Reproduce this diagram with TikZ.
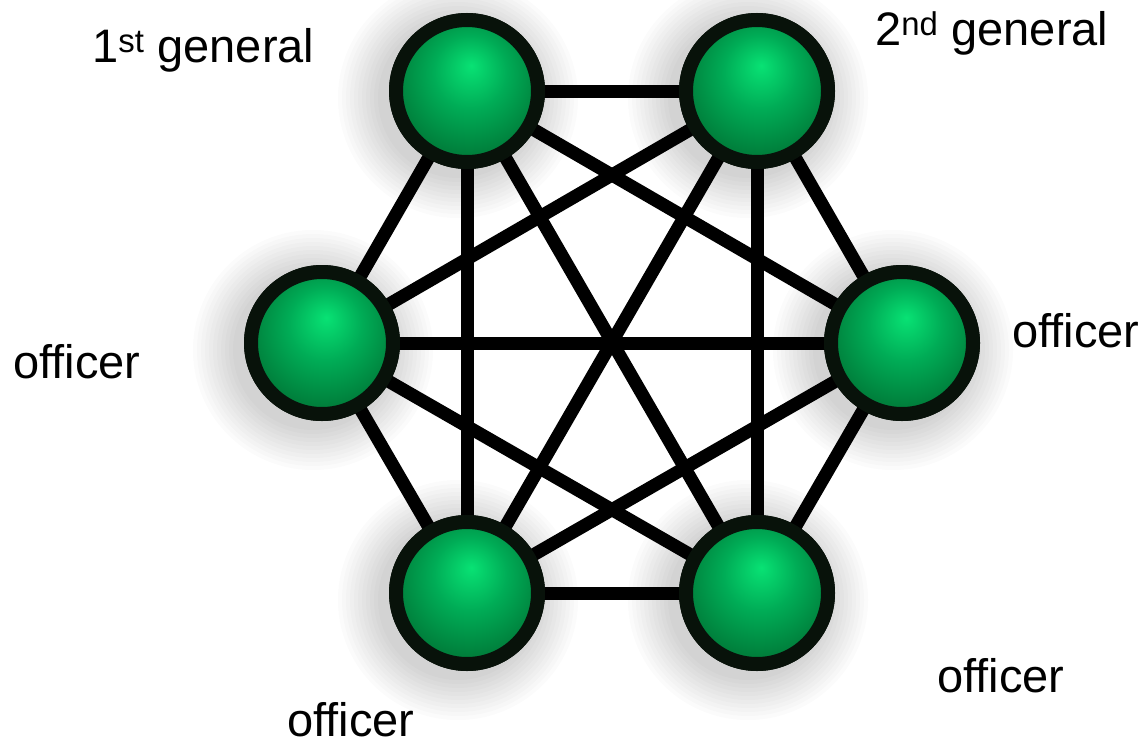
\documentclass[tikz,border=0pt]{standalone}
\usepackage{fontspec}
\setmainfont{Liberation Sans}
\definecolor{gl}{RGB}{8,226,116}
\definecolor{gm}{RGB}{0,172,86}
\definecolor{gd}{RGB}{0,128,60}
\definecolor{rim}{RGB}{8,18,10}
\pgfdeclareradialshading{greenball}{\pgfpoint{1.5bp}{9bp}}{%
  color(0bp)=(gl); color(13bp)=(gm); color(26bp)=(gd); color(50bp)=(gd)}
\tikzset{
  gnode/.style={circle, draw=rim, line width=14pt, minimum size=142pt,
    inner sep=0pt, shading=greenball},
  link/.style={draw=black, line width=13pt},
  lbl/.style={font=\fontsize{47}{56}\selectfont, anchor=base west, inner sep=0pt}
}
\begin{document}
\begin{tikzpicture}[x=1pt,y=-1pt]
\useasboundingbox (0,0) rectangle (1146,744);
\fill[white] (0,0) rectangle (1146,744);
% positions
\coordinate (pTL) at (467,91);
\coordinate (pTR) at (757,91);
\coordinate (pL) at (322,343);
\coordinate (pR) at (902,343);
\coordinate (pBL) at (467,593);
\coordinate (pBR) at (757,593);
% soft shadows
\foreach \p in {pTL,pTR,pL,pR,pBL,pBR}{
  \foreach \k in {0,...,10}{
    \fill[black, opacity=0.016] ([shift={(-9,7)}]\p) circle ({80+\k*4});
  }
}
% nodes (named, drawn first)
\node[gnode] (TL) at (pTL) {};
\node[gnode] (TR) at (pTR) {};
\node[gnode] (L) at (pL) {};
\node[gnode] (R) at (pR) {};
\node[gnode] (BL) at (pBL) {};
\node[gnode] (BR) at (pBR) {};
% edges
\foreach \a/\b in {TL/TR,TL/L,TL/R,TL/BL,TL/BR,TR/L,TR/R,TR/BL,TR/BR,L/R,L/BL,L/BR,R/BL,R/BR,BL/BR}{
  \draw[link] (\a.center) -- (\b.center);
}
% redraw nodes on top of edges
\node[gnode] at (pTL) {};
\node[gnode] at (pTR) {};
\node[gnode] at (pL) {};
\node[gnode] at (pR) {};
\node[gnode] at (pBL) {};
\node[gnode] at (pBR) {};
% labels
\node[lbl] (l1) at (92,62) {1\textsuperscript{st} general};
\node[lbl] (l2) at (875,45) {2\textsuperscript{nd} general};
\node[lbl] (l3) at (13,378) {officer};
\node[lbl] (l4) at (1012,347) {officer};
\node[lbl] (l5) at (937,692) {officer};
\node[lbl] (l6) at (287,736) {officer};
\end{tikzpicture}
\end{document}
